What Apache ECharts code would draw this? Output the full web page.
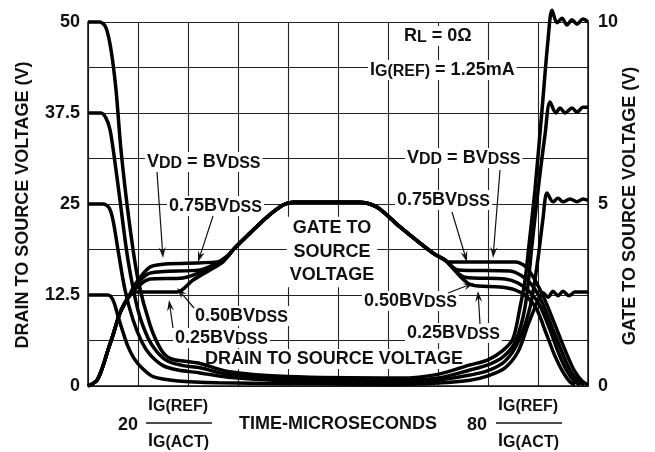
<!DOCTYPE html>
<html>
<head>
<meta charset="utf-8">
<script src="https://cdn.jsdelivr.net/npm/echarts@6/dist/echarts.min.js"></script>
<style>
  html, body { margin: 0; padding: 0; background: #fff; }
  #chart { width: 655px; height: 452px; }
</style>
</head>
<body>
<div id="chart"></div>
<script>
  // tick labels
  var drainTicks = [0, 12.5, 25, 37.5, 50];
  var gateTicks = [0, 5, 10];

  // drain to source voltage (V) vs time, one per VDD
  var drain50 = [[0,50],[2.4,50],[3.6,49.2],[4.6,46.2],[5.6,40.7],[6.6,32.4],[8.2,22.8],[10,14.6],[12.4,8.4],[14.6,5.0],[16.4,3.8],[19.4,3.4],[22.4,3.1],[28,2.0],[40,1.3],[62.4,1.1],[70,1.6],[76.4,2.9],[80,3.6],[83,4.9],[85,6.5],[86.4,10.8],[87.4,14.5],[88.2,19.4],[89.4,27],[90.8,37.9],[92,47.5],[92.8,51.6],[93.8,49.9],[94.8,50.5],[95.8,49.6],[96.8,50.3],[97.8,49.7],[99,50.4],[100,50]];
  var drain37 = [[0,37.5],[2.6,37.5],[3.6,36.8],[4.4,35.2],[5.2,31.7],[6.4,25.5],[8,17.3],[10,10.4],[12,6.6],[13.8,4.7],[16,3.4],[19,2.8],[22.4,2.5],[28,1.6],[40,1.0],[62.4,0.8],[70,1.1],[76.4,2.2],[80,2.9],[83,4.0],[85.4,6.0],[87.4,10.8],[88.8,19.4],[90.2,28],[91.4,34.5],[92.4,39.0],[93.6,37.5],[94.4,38.2],[95.4,37.5],[96.8,38.2],[97.8,37.6],[99,38.3],[100,38.3]];
  var drain25 = [[0,25],[3,25],[4.2,24.5],[5,22.8],[6,18.7],[7.4,13.2],[9,9.1],[10.8,6.0],[12.4,4.3],[15,2.8],[18,2.2],[22.4,1.8],[28,1.2],[40,0.7],[62.4,0.5],[70,0.8],[76.4,1.5],[80,2.1],[83.4,3.4],[86,6.0],[88.4,10.8],[90,17.5],[91,23],[91.8,26.5],[93,25.3],[94,25.8],[95,25.3],[96.4,25.7],[97.8,25.3],[99,25.7],[100,25.5]];
  var drain12 = [[0,12.5],[4,12.5],[5,11.8],[6,9.6],[7,7.4],[8,5.4],[9.2,3.8],[10.6,2.6],[13,1.3],[18,0.7],[26,0.45],[46,0.3],[62.4,0.2],[70,0.4],[76.4,0.8],[80,1.4],[83.4,2.5],[86,4.7],[88,8.4],[89.4,10.8],[90.4,12.3],[91,12.8],[92,12.2],[93,13.0],[94,12.4],[95,13.0],[96.2,12.4],[97.4,12.9],[100,12.9]];

  // gate to source voltage (V): shared rise and top, separate plateaus
  var gateRise = [[0,0],[1.8,0.16],[3,0.55],[4,0.99],[5,1.4],[6.4,2.01],[8,2.42]];
  var gateTop = [[29,3.74],[32.4,4.20],[35.8,4.64],[39,4.97],[41,5.05],[54.4,5.05],[56.4,5.0],[58.4,4.86],[62.4,4.37],[69,3.65],[71.4,3.46]];
  var gateLeftBV = [[9.6,2.83],[12.4,3.27],[15.4,3.35],[25.8,3.41],[27.8,3.54]];
  var gateLeft75 = [[9.6,2.77],[12.4,3.10],[22.4,3.19],[25.8,3.38],[27.8,3.57]];
  var gateLeft50 = [[9.6,2.69],[12.4,2.94],[19,2.97],[24.4,3.24],[27.4,3.49]];
  var gateLeft25 = [[9.6,2.58],[17.8,2.58],[21,2.91],[24.4,3.19],[27,3.41]];
  var gateRightBV = [[72,3.41],[85.4,3.41],[87.6,3.27],[89.4,2.91],[91.4,2.36],[93.4,1.68],[95.4,0.99],[97.2,0.44],[98.8,0.14],[100,0.03]];
  var gateRight75 = [[74,3.19],[84.4,3.16],[86.8,3.02],[88.8,2.77],[90.8,2.31],[92.8,1.62],[94.8,0.93],[96.4,0.44],[98,0.14],[99.2,0.03]];
  var gateRight50 = [[75.4,2.99],[83.4,2.94],[86,2.83],[88.4,2.58],[90.4,2.20],[92.4,1.54],[94.2,0.88],[95.8,0.41],[97.2,0.14],[98.4,0.03]];
  var gateRight25 = [[76.8,2.77],[82.4,2.72],[85.4,2.64],[87.8,2.45],[89.8,2.09],[91.6,1.46],[93.4,0.82],[95,0.38],[96.4,0.11],[97.4,0.03]];

  var FONT = '"Liberation Sans", Arial, sans-serif';
  var INK = '#111';

  var chart = echarts.init(document.getElementById('chart'));

  function curve(data, yIndex) {
    return {
      type: 'line',
      data: data,
      yAxisIndex: yIndex,
      showSymbol: false,
      smooth: 0.3,
      clip: false,
      silent: true,
      z: 3,
      lineStyle: { color: '#000', width: 3.5 }
    };
  }

  var rich = {
    a: { fontSize: 18, fontWeight: 'bold', fontFamily: FONT, fill: INK, lineHeight: 20 },
    s: { fontSize: 16, fontWeight: 'bold', fontFamily: FONT, fill: INK, lineHeight: 10, verticalAlign: 'bottom' }
  };

  function label(x, y, text, align, bg) {
    return {
      type: 'text', x: x, y: y, z: 1,
      style: {
        text: text, rich: rich, fill: INK,
        fontSize: 18, fontWeight: 'bold', fontFamily: FONT,
        align: align || 'left', verticalAlign: 'middle',
        backgroundColor: bg === false ? null : '#fff', padding: [0, 2]
      }
    };
  }

  function arrow(x1, y1, x2, y2) {
    var dx = x2 - x1, dy = y2 - y1, L = Math.sqrt(dx * dx + dy * dy);
    var ux = dx / L, uy = dy / L, px = -uy, py = ux;
    var bx = x2 - ux * 11, by = y2 - uy * 11;
    var nx = x2 - ux * 7, ny = y2 - uy * 7;
    return [
      { type: 'line', z: 1, shape: { x1: x1, y1: y1, x2: nx, y2: ny }, style: { stroke: INK, lineWidth: 1.2 } },
      { type: 'polygon', z: 1, shape: { points: [[x2, y2], [bx + px * 3.5, by + py * 3.5], [nx, ny], [bx - px * 3.5, by - py * 3.5]] }, style: { fill: INK } }
    ];
  }

  function title(x, y, text) {
    return {
      type: 'text', x: x, y: y, rotation: Math.PI / 2, z: 1,
      style: { text: text, fill: INK, fontSize: 18, fontWeight: 'bold', fontFamily: FONT, align: 'center', verticalAlign: 'middle' }
    };
  }

  var graphics = [
    title(23, 205, 'DRAIN TO SOURCE VOLTAGE (V)'),
    title(630, 206, 'GATE TO SOURCE VOLTAGE (V)'),
    label(402, 36, '{a|R}{s|L}{a| = 0Ω}'),
    label(368, 70, '{a|I}{s|G(REF)}{a| = 1.25mA}'),
    label(145, 162, '{a|V}{s|DD}{a| = BV}{s|DSS}'),
    label(405, 158, '{a|V}{s|DD}{a| = BV}{s|DSS}'),
    label(167, 206, '{a|0.75BV}{s|DSS}'),
    label(395, 200, '{a|0.75BV}{s|DSS}'),
    label(193, 316, '{a|0.50BV}{s|DSS}'),
    label(173, 338, '{a|0.25BV}{s|DSS}'),
    label(362, 301, '{a|0.50BV}{s|DSS}'),
    label(405, 333, '{a|0.25BV}{s|DSS}'),
    label(203, 359, '{a|DRAIN TO SOURCE VOLTAGE}'),
    {
      type: 'text', x: 332, y: 252, z: 1,
      style: {
        text: 'GATE TO\nSOURCE\nVOLTAGE', fill: INK, fontSize: 18, fontWeight: 'bold', fontFamily: FONT,
        lineHeight: 23.5, align: 'center', verticalAlign: 'middle', backgroundColor: '#fff', padding: [0, 3]
      }
    },
    // bottom time axis caption
    label(116, 425, '{a|20}', 'left', false),
    label(146, 405, '{a|I}{s|G(REF)}', 'left', false),
    label(146, 441, '{a|I}{s|G(ACT)}', 'left', false),
    { type: 'line', shape: { x1: 146, y1: 423, x2: 212, y2: 423 }, style: { stroke: INK, lineWidth: 1.3 } },
    label(237, 424, '{a|TIME-MICROSECONDS}', 'left', false),
    label(465, 425, '{a|80}', 'left', false),
    label(496, 405, '{a|I}{s|G(REF)}', 'left', false),
    label(496, 441, '{a|I}{s|G(ACT)}', 'left', false),
    { type: 'line', shape: { x1: 496, y1: 423, x2: 562, y2: 423 }, style: { stroke: INK, lineWidth: 1.3 } }
  ];
  graphics = graphics
    .concat(arrow(157, 172, 163, 258))
    .concat(arrow(213, 216, 198, 262))
    .concat(arrow(194, 308, 177, 288))
    .concat(arrow(173, 328, 169, 300))
    .concat(arrow(500, 170, 493, 258))
    .concat(arrow(452, 212, 467, 262))
    .concat(arrow(448, 293, 474, 283))
    .concat(arrow(480, 324, 478, 291));

  var axisLine = { show: true, onZero: false, lineStyle: { color: INK, width: 1.5 } };
  var split = { show: true, lineStyle: { color: '#222', width: 1.1 } };
  var tickFont = { fontSize: 18, fontWeight: 'bold', fontFamily: FONT, color: INK };

  var option = {
    animation: false,
    backgroundColor: '#fff',
    grid: { left: 88, right: 67, top: 22, bottom: 66, containLabel: false },
    xAxis: {
      type: 'value', min: 0, max: 100, interval: 10,
      axisLine: axisLine, axisTick: { show: false }, axisLabel: { show: false },
      splitLine: split
    },
    yAxis: [
      {
        type: 'value', min: 0, max: 50, interval: 6.25, position: 'left',
        axisLine: axisLine, axisTick: { show: false }, splitLine: split,
        axisLabel: Object.assign({ margin: 8, formatter: function (v) {
          return drainTicks.indexOf(v) >= 0 ? String(v) : '';
        } }, tickFont)
      },
      {
        type: 'value', min: 0, max: 10, interval: 5, position: 'right',
        axisLine: axisLine, axisTick: { show: false }, splitLine: { show: false },
        axisLabel: Object.assign({ margin: 10, formatter: function (v) {
          return gateTicks.indexOf(v) >= 0 ? String(v) : '';
        } }, tickFont)
      }
    ],
    series: [
      curve(drain50, 0),
      curve(drain37, 0),
      curve(drain25, 0),
      curve(drain12, 0),
      curve(gateRise.concat(gateLeftBV, gateTop, gateRightBV), 1),
      curve(gateRise.concat(gateLeft75, gateTop, gateRight75), 1),
      curve(gateRise.concat(gateLeft50, gateTop, gateRight50), 1),
      curve(gateRise.concat(gateLeft25, gateTop, gateRight25), 1)
    ],
    graphic: graphics
  };

  chart.setOption(option);
</script>
</body>
</html>
